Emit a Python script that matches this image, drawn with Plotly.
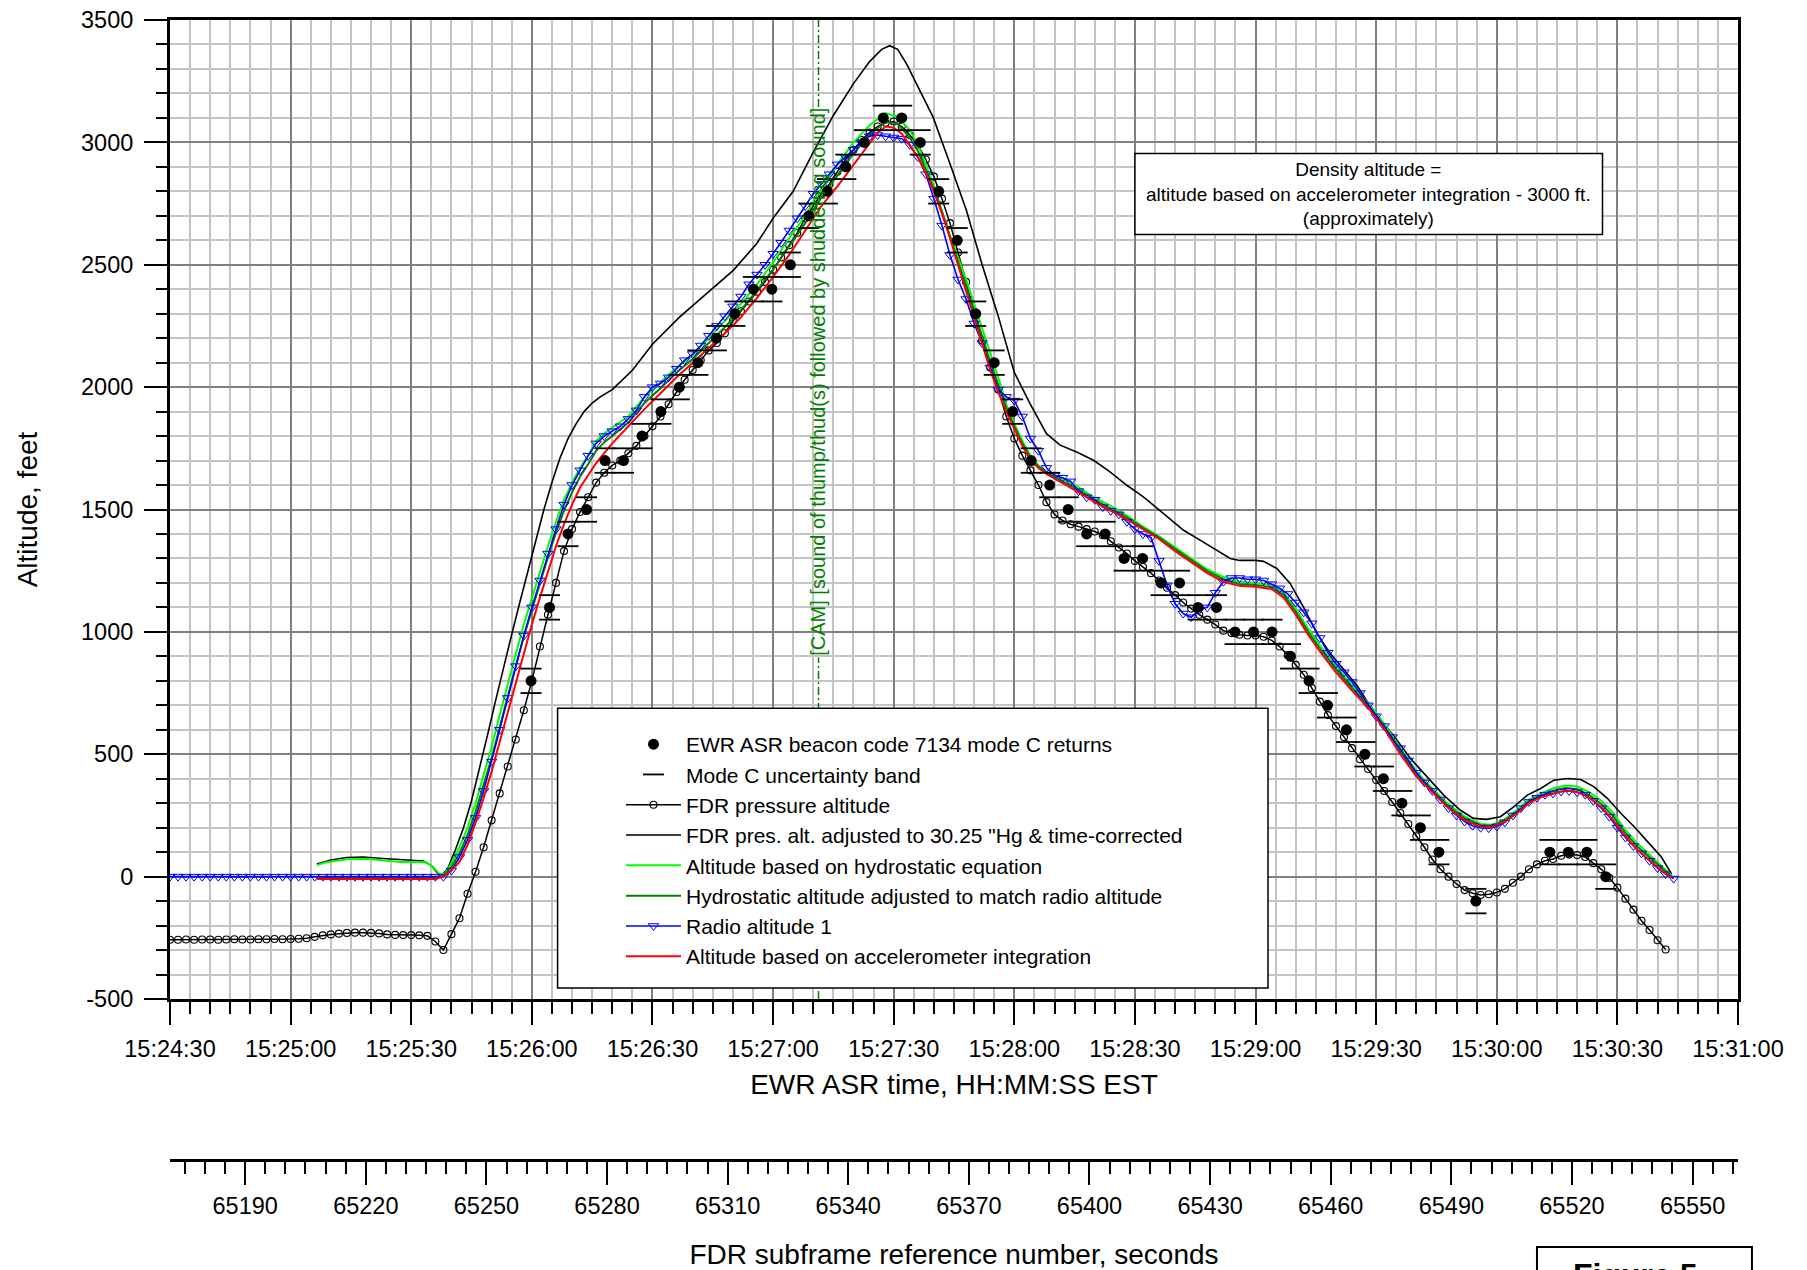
import plotly.graph_objects as go

FONT = "Liberation Sans, Arial, Helvetica, sans-serif"

# ---------------------------------------------------------------------------
# Time base: seconds after 15:24:30 EST (EWR ASR clock)
# ---------------------------------------------------------------------------
time_tick_vals = [0, 30, 60, 90, 120, 150, 180, 210, 240, 270, 300, 330, 360, 390]
time_tick_text = ["15:24:30", "15:25:00", "15:25:30", "15:26:00", "15:26:30", "15:27:00",
                  "15:27:30", "15:28:00", "15:28:30", "15:29:00", "15:29:30", "15:30:00",
                  "15:30:30", "15:31:00"]

# FDR subframe reference number corresponding to 15:24:30 EST
fdr_at_start = 65171.3
fdr_tick_vals = [65190, 65220, 65250, 65280, 65310, 65340, 65370, 65400, 65430,
                 65460, 65490, 65520, 65550]
fdr_tick_text = [str(v) for v in fdr_tick_vals]

alt_tick_vals = [-500, 0, 500, 1000, 1500, 2000, 2500, 3000, 3500]
alt_tick_text = ["-500", "0", "500", "1000", "1500", "2000", "2500", "3000", "3500"]

# ---------------------------------------------------------------------------
# EWR ASR beacon code 7134 mode C returns (100 ft quantised)
# ---------------------------------------------------------------------------
asr_time = [89.8, 94.4, 99.0, 103.6, 108.2, 112.8, 117.4, 122.1, 126.7, 131.3,
            135.9, 140.5, 145.1, 149.7, 154.3, 158.9, 163.5, 168.1, 172.7, 177.4,
            182.0, 186.6, 191.2, 195.8, 200.4, 205.0, 209.6, 214.2, 218.8, 223.4,
            228.0, 232.6, 237.3, 241.9, 246.5, 251.1, 255.7, 260.3, 264.9, 269.5,
            274.1, 278.7, 283.3, 287.9, 292.6, 297.2, 301.8, 306.4, 311.0, 315.6,
            324.8, 343.2, 347.8, 352.4, 357.1]
asr_alt = [800, 1100, 1400, 1500, 1700, 1700, 1800, 1900, 2000, 2100,
           2200, 2300, 2400, 2400, 2500, 2700, 2800, 2900, 3000, 3100,
           3100, 3000, 2800, 2600, 2300, 2100, 1900, 1700, 1600, 1500,
           1400, 1400, 1300, 1300, 1200, 1200, 1100, 1100, 1000, 1000,
           1000, 900, 800, 700, 600, 500, 400, 300, 200, 100,
           -100, 100, 100, 100, 0]
mode_c_half_band = 50  # +/- ft about each reported mode C value

# ---------------------------------------------------------------------------
# FDR pressure altitude, 2 s samples from 15:24:30
# ---------------------------------------------------------------------------
pres_time = list(range(0, 373, 2))
pres_alt = [
    -258, -258, -257, -258, -257, -257, -258, -257, -256, -257,   # 0-18
    -257, -256, -256, -255, -256, -255, -254, -252, -246, -240,   # 20-38
    -236, -233, -230, -229, -229, -230, -232, -236, -238, -239,   # 40-58
    -239, -240, -242, -265, -300, -235, -170, -70, 20, 120,       # 60-78
    230, 340, 450, 560, 680, 800, 940, 1070, 1200, 1330,          # 80-98
    1420, 1490, 1550, 1610, 1650, 1680, 1700, 1730, 1760, 1800,   # 100-118
    1840, 1880, 1930, 1980, 2030, 2070, 2110, 2150, 2180, 2220,   # 120-138
    2270, 2310, 2350, 2390, 2430, 2480, 2530, 2580, 2630, 2690,   # 140-158
    2740, 2790, 2830, 2880, 2930, 2970, 3010, 3040, 3065, 3080,   # 160-178
    3085, 3065, 3030, 2990, 2930, 2860, 2770, 2670, 2550, 2430,   # 180-198
    2300, 2190, 2080, 1990, 1880, 1790, 1720, 1660, 1600, 1530,   # 200-218
    1480, 1455, 1440, 1430, 1420, 1410, 1395, 1370, 1345, 1320,   # 220-238
    1290, 1265, 1240, 1210, 1180, 1150, 1120, 1095, 1070, 1050,   # 240-258
    1030, 1005, 995, 988, 985, 985, 980, 965, 940, 905,           # 260-278
    865, 825, 770, 715, 660, 615, 570, 525, 480, 440,             # 280-298
    395, 350, 305, 260, 215, 165, 120, 70, 30, 0,                 # 300-318
    -30, -55, -68, -75, -72, -65, -50, -25, 0, 30,                # 320-338
    50, 65, 72, 85, 90, 88, 80, 55, 30, -5,                       # 340-358
    -45, -90, -135, -180, -218, -260, -298,                       # 360-372
]

# ---------------------------------------------------------------------------
# Radio altitude 1, 2 s samples from 15:24:30
# ---------------------------------------------------------------------------
radio_time = list(range(0, 375, 2))
radio_alt = [
    0, 0, 0, 0, 0, 0, 0, 0, 0, 0,                                 # 0-18
    0, 0, 0, 0, 0, 0, 0, 0, 0, 0,                                 # 20-38
    0, 0, 0, 0, 0, 0, 0, 0, 0, 0,                                 # 40-58
    0, 0, 0, 0, 0, 25, 80, 150, 240, 350,                         # 60-78
    470, 600, 730, 860, 985, 1100, 1210, 1320, 1420, 1520,        # 80-98
    1600, 1660, 1720, 1770, 1800, 1820, 1840, 1870, 1905, 1960,   # 100-118
    2000, 2015, 2040, 2075, 2110, 2135, 2170, 2210, 2250, 2290,   # 120-138
    2330, 2370, 2420, 2460, 2500, 2545, 2590, 2640, 2690, 2740,   # 140-158
    2790, 2830, 2870, 2910, 2940, 2970, 3000, 3025, 3030, 3025,   # 160-178
    3020, 3015, 2990, 2940, 2870, 2770, 2660, 2540, 2440, 2360,   # 180-198
    2260, 2180, 2080, 1990, 1960, 1945, 1880, 1790, 1740, 1670,   # 200-218
    1640, 1630, 1615, 1575, 1550, 1540, 1510, 1495, 1480, 1450,   # 220-238
    1420, 1400, 1385, 1290, 1190, 1115, 1075, 1060, 1090, 1100,   # 240-258
    1160, 1205, 1220, 1220, 1215, 1215, 1210, 1195, 1178, 1155,   # 260-278
    1120, 1080, 1035, 975, 915, 870, 835, 795, 750, 700,          # 280-298
    655, 615, 570, 525, 475, 425, 385, 350, 315, 280,             # 300-318
    250, 225, 208, 200, 198, 205, 222, 250, 280, 305,             # 320-338
    322, 335, 340, 348, 350, 345, 335, 310, 280, 245,             # 340-358
    200, 160, 125, 95, 65, 35, 10, -8,                            # 360-374
]

# ---------------------------------------------------------------------------
# FDR pressure altitude adjusted to 30.25 "Hg and time-corrected
# ---------------------------------------------------------------------------
adj_time = [36.5, 40, 44, 48, 52, 56, 60, 63, 65, 66.5, 67.5, 69, 71, 73, 75, 77, 79,
            81, 83, 85, 87, 89, 91, 93, 95, 97, 99, 101, 103, 105, 107, 110, 115,
            120, 126.8, 133.4, 140.1, 145.9, 150, 155, 160, 165, 170, 174, 177,
            179, 181, 183.2, 186.5, 189.8, 194, 198.1, 202, 206, 210, 213.9, 218,
            221.4, 225.5, 229.7, 233.8, 238, 242.1, 247.1, 252.1, 256.2, 260.3,
            263.7, 266, 270, 272, 275.3, 278.6, 281.9, 285.3, 288.6, 293.5, 295.2,
            300.2, 304.3, 308.5, 312.6, 316.8, 320.9, 324.2, 327.5, 330.9, 334.2,
            337.6, 340.9, 344.2, 347.6, 350.9, 354.2, 357.5, 360.9, 364.2, 367.5,
            370.9, 373.5]
adj_alt = [52, 68, 78, 80, 75, 70, 68, 64, 45, 15, 5, 30, 110, 200, 310, 440, 580,
           720, 860, 990, 1120, 1250, 1380, 1500, 1610, 1710, 1790, 1850, 1900,
           1935, 1960, 1990, 2069, 2175, 2287, 2382, 2477, 2586, 2690, 2800, 2960,
           3110, 3240, 3330, 3380, 3395, 3380, 3321, 3212, 3103, 2913, 2722, 2500,
           2290, 2060, 1933, 1810, 1763, 1735, 1701, 1654, 1599, 1552, 1483, 1415,
           1375, 1334, 1300, 1292, 1292, 1288, 1259, 1198, 1102, 993, 912, 816,
           782, 653, 578, 483, 408, 333, 272, 238, 234, 245, 285, 333, 360, 394,
           401, 397, 367, 320, 258, 204, 143, 81, 10]

# ---------------------------------------------------------------------------
# Altitude based on hydrostatic equation
# ---------------------------------------------------------------------------
hydro_time = [36.5, 38.6, 41.4, 44.7, 48.8, 53, 57.1, 61.3, 63.8, 65.4, 67.3, 68.5,
              70, 72, 74, 76, 78, 80, 82, 84, 86, 88, 90, 92, 94, 96, 98, 100, 102,
              104, 106, 108, 110, 114, 118, 122, 126, 130, 134, 138, 142, 146, 150,
              154, 158, 162, 166, 170, 174, 178, 181, 184, 186, 188, 190, 192, 194,
              196, 198, 200, 202, 204, 206, 208, 210, 212, 214, 216, 218, 220, 222,
              226, 230, 234, 238, 242, 246, 250, 254, 258, 262, 266, 270, 274, 277,
              280, 283, 286, 290, 294, 298, 302, 306, 310, 314, 318, 322, 326, 329,
              332, 335, 338, 341, 344, 347, 350, 353, 356, 359, 362, 365, 368, 371,
              373.5]
hydro_alt = [47, 58, 65, 72, 73, 66, 60, 61, 58, 40, 6, 15,
             55, 120, 200, 300, 410, 530, 660, 790, 910, 1030, 1140, 1250, 1350,
             1450, 1540, 1610, 1670, 1720, 1780, 1810, 1835, 1880, 1960, 2020, 2080,
             2130, 2200, 2270, 2340, 2420, 2510, 2610, 2700, 2810, 2910, 3000, 3070,
             3120, 3105, 3050, 2990, 2910, 2820, 2720, 2620, 2530, 2440, 2340, 2240,
             2140, 2040, 1930, 1850, 1780, 1720, 1680, 1655, 1640, 1625, 1590, 1548,
             1515, 1475, 1430, 1390, 1345, 1300, 1255, 1225, 1205, 1200, 1192, 1160,
             1095, 1015, 945, 860, 780, 710, 625, 525, 430, 360, 295, 245, 215, 212,
             235, 272, 315, 340, 360, 372, 368, 345, 310, 260, 190, 135, 90, 45, 5]

# ---------------------------------------------------------------------------
# Hydrostatic altitude adjusted to match radio altitude
# ---------------------------------------------------------------------------
hadj_time = [36.5, 66, 68, 70, 72, 74, 76, 78, 80, 82, 84, 86, 88, 90, 92, 94, 96,
             98, 100, 102, 104, 106, 108, 110, 114, 118, 122, 126, 130, 134, 138,
             142, 146, 150, 154, 158, 162, 166, 170, 174, 178, 181, 184, 186, 188,
             190, 192, 194, 196, 198, 200, 202, 204, 206, 208, 210, 212, 214, 216,
             218, 220, 222, 226, 230, 234, 238, 242, 246, 250, 254, 258, 262, 266,
             270, 274, 277, 280, 283, 286, 290, 294, 298, 302, 306, 310, 314, 318,
             322, 326, 329, 332, 335, 338, 341, 344, 347, 350, 353, 356, 359, 362,
             365, 368, 371, 373.5]
hadj_alt = [-2, -2, 2, 40, 95, 170, 265, 370, 485, 610, 740, 860, 980, 1090, 1200,
            1305, 1405, 1495, 1570, 1635, 1685, 1740, 1775, 1800, 1855, 1935, 1995,
            2060, 2115, 2180, 2245, 2315, 2395, 2480, 2575, 2670, 2775, 2865, 2955,
            3030, 3085, 3075, 3020, 2965, 2890, 2810, 2715, 2615, 2515, 2415, 2310,
            2208, 2105, 2010, 1915, 1840, 1770, 1712, 1675, 1650, 1632, 1616, 1580,
            1539, 1505, 1468, 1425, 1385, 1338, 1292, 1248, 1215, 1196, 1192, 1183,
            1150, 1082, 1002, 932, 848, 770, 700, 615, 512, 420, 352, 287, 238, 210,
            208, 230, 265, 308, 332, 350, 362, 357, 333, 297, 245, 178, 122, 79, 35, 0]

# ---------------------------------------------------------------------------
# Altitude based on accelerometer integration
# ---------------------------------------------------------------------------
accel_time = [36.5, 66, 68, 70, 72, 74, 76, 78, 80, 82, 84, 86, 88, 90, 92, 94, 96,
              98, 100, 102, 104, 106, 108, 110, 114, 118, 122, 126, 130, 134, 138,
              142, 146, 150, 154, 158, 162, 166, 170, 174, 176, 178, 180, 182, 184,
              186, 188, 190, 192, 194, 196, 198, 200, 202, 204, 206, 208, 210, 212,
              214, 216, 218, 220, 222, 226, 230, 234, 238, 242, 246, 250, 254, 258,
              262, 266, 270, 274, 277, 280, 283, 286, 290, 294, 298, 302, 306, 310,
              314, 318, 322, 326, 329, 332, 335, 338, 341, 344, 347, 350, 353, 356,
              359, 362, 365, 368, 371, 373.5]
accel_alt = [-10, -10, 0, 25, 60, 130, 220, 320, 430, 550, 680, 800, 920, 1030, 1140,
             1250, 1350, 1440, 1520, 1590, 1640, 1690, 1730, 1770, 1840, 1910, 1975,
             2040, 2100, 2160, 2220, 2285, 2365, 2450, 2540, 2640, 2740, 2820, 2910,
             2995, 3040, 3065, 3060, 3035, 2990, 2940, 2875, 2800, 2710, 2610, 2500,
             2390, 2280, 2175, 2070, 1980, 1900, 1830, 1760, 1705, 1670, 1645, 1625,
             1608, 1570, 1530, 1495, 1460, 1420, 1380, 1330, 1285, 1240, 1205, 1188,
             1184, 1175, 1140, 1070, 990, 920, 835, 760, 690, 605, 500, 410, 345, 280,
             230, 205, 204, 225, 258, 300, 325, 340, 352, 346, 322, 285, 230, 165, 108,
             67, 25, -5]

# CAM event time and the gap left in its marker line for the rotated label
cam_time = 161.3
cam_label = "[CAM] [sound of thump/thud(s) followed by shuddering sound]"
cam_gap = (895, 3145)

fig = go.Figure()

# drawing order: pressure altitude underneath, returns on top
fig.add_trace(go.Scatter(
    x=pres_time, y=pres_alt, mode="lines+markers", name="FDR pressure altitude",
    line=dict(color="black", width=1.5),
    marker=dict(symbol="circle-open", size=7, color="black", line=dict(width=1.1)),
    legendrank=3))
fig.add_trace(go.Scatter(
    x=adj_time, y=adj_alt, mode="lines",
    name="FDR pres. alt. adjusted to 30.25 \"Hg & time-corrected",
    line=dict(color="black", width=1.6), legendrank=4))
fig.add_trace(go.Scatter(
    x=hydro_time, y=hydro_alt, mode="lines", name="Altitude based on hydrostatic equation",
    line=dict(color="#00ff00", width=2), legendrank=5))
fig.add_trace(go.Scatter(
    x=hadj_time, y=hadj_alt, mode="lines",
    name="Hydrostatic altitude adjusted to match radio altitude",
    line=dict(color="#008000", width=2), legendrank=6))
fig.add_trace(go.Scatter(
    x=radio_time, y=radio_alt, mode="lines+markers", name="Radio altitude 1",
    line=dict(color="#0000ff", width=1.6),
    marker=dict(symbol="triangle-down-open", size=9, color="#0000ff", line=dict(width=1)),
    legendrank=7))
fig.add_trace(go.Scatter(
    x=accel_time, y=accel_alt, mode="lines",
    name="Altitude based on accelerometer integration",
    line=dict(color="#ff0000", width=2), legendrank=8))

band_time = asr_time + asr_time
band_alt = [a + mode_c_half_band for a in asr_alt] + [a - mode_c_half_band for a in asr_alt]
fig.add_trace(go.Scatter(
    x=band_time, y=band_alt, mode="markers", name="Mode C uncertainty band",
    marker=dict(symbol="line-ew", size=15, color="black", line=dict(width=1.8, color="black")),
    legendrank=2))
fig.add_trace(go.Scatter(
    x=asr_time, y=asr_alt, mode="markers", name="EWR ASR beacon code 7134 mode C returns",
    marker=dict(symbol="circle", size=11, color="black"), legendrank=1))

# CAM event marker line, broken where the label sits
fig.add_trace(go.Scatter(
    x=[cam_time, cam_time, None, cam_time, cam_time],
    y=[-500, cam_gap[0], None, cam_gap[1], 3500],
    mode="lines", showlegend=False, hoverinfo="skip",
    line=dict(color="#008000", width=1.5, dash="8px,3px,2px,3px")))

# carrier for the FDR subframe axis
fig.add_trace(go.Scatter(
    x=[fdr_at_start, fdr_at_start + 390], y=[None, None], xaxis="x2", yaxis="y",
    mode="markers", showlegend=False, hoverinfo="skip"))

fig.add_annotation(
    x=cam_time, y=(cam_gap[0] + cam_gap[1]) / 2, xref="x", yref="y",
    text=cam_label, textangle=-90, showarrow=False,
    font=dict(family=FONT, size=20, color="#008000"))

# density altitude note
fig.add_shape(type="rect", xref="x", yref="y", x0=240.0, x1=356.3, y0=2624, y1=2955,
              fillcolor="white", line=dict(color="black", width=1.5), layer="above")
fig.add_annotation(
    x=298.2, y=2790, xref="x", yref="y", showarrow=False, align="center",
    text="Density altitude =<br>altitude based on accelerometer integration - 3000 ft."
         "<br>(approximately)",
    font=dict(family=FONT, size=19, color="black"))

# legend frame
fig.add_shape(type="rect", xref="x", yref="y", x0=96.4, x1=273.1, y0=-455, y1=688,
              fillcolor="white", line=dict(color="black", width=1.5), layer="above")

# figure number box at the page foot
fig.add_shape(type="rect", xref="paper", yref="paper", x0=0.8718, x1=1.0089,
              y0=-0.2, y1=-0.0763, line=dict(color="black", width=2))
fig.add_annotation(
    x=0.934, y=-0.083, xref="paper", yref="paper", xanchor="center", yanchor="top",
    showarrow=False, text="<b>Figure 5</b>",
    font=dict(family=FONT, size=32, color="black"))

axis_common = dict(
    showline=True, linewidth=3, linecolor="black",
    ticks="outside", tickwidth=2, tickcolor="black",
    tickfont=dict(family=FONT, size=23.5, color="black"),
    zeroline=False, automargin=False,
)

fig.update_layout(
    width=1807, height=1270,
    margin=dict(l=170, r=69, t=20, b=110, autoexpand=False),
    paper_bgcolor="white", plot_bgcolor="white",
    font=dict(family=FONT, color="black"),
    showlegend=True,
    legend=dict(
        x=(621 - 170) / 1568, y=1 - (724 - 20) / 1140, xanchor="left", yanchor="top",
        xref="paper", yref="paper",
        bgcolor="rgba(0,0,0,0)", borderwidth=0, itemwidth=55,
        font=dict(family=FONT, size=21, color="black"),
        traceorder="normal", tracegroupgap=0),
    xaxis=dict(
        range=[0, 390], tickmode="array", tickvals=time_tick_vals, ticktext=time_tick_text,
        ticklen=23, mirror=True, showgrid=True, gridcolor="#808080", gridwidth=1.5,
        minor=dict(tickmode="linear", tick0=0, dtick=5, ticks="outside", ticklen=12,
                   tickwidth=2, tickcolor="black", showgrid=True,
                   gridcolor="#c4c4c4", gridwidth=1.5),
        ticklabelstandoff=4,
        title=dict(text="EWR ASR time, HH:MM:SS EST",
                   font=dict(family=FONT, size=28, color="black"), standoff=14),
        **axis_common),
    xaxis2=dict(
        range=[fdr_at_start, fdr_at_start + 390], overlaying="x", anchor="free",
        position=0, side="bottom", tickmode="array", tickvals=fdr_tick_vals,
        ticktext=fdr_tick_text, ticklen=23, showgrid=False,
        minor=dict(tickmode="linear", tick0=65170, dtick=5, ticks="outside", ticklen=12,
                   tickwidth=2, tickcolor="black", showgrid=False),
        ticklabelstandoff=1,
        title=dict(text="FDR subframe reference number, seconds",
                   font=dict(family=FONT, size=28, color="black"), standoff=26),
        **axis_common),
    yaxis=dict(
        range=[-500, 3500], domain=[(1160 - 999) / 1140, 1], tickmode="array",
        tickvals=alt_tick_vals, ticktext=alt_tick_text, ticklen=23, mirror=True,
        showgrid=True, gridcolor="#808080", gridwidth=1.5,
        minor=dict(tickmode="linear", tick0=0, dtick=100, ticks="outside", ticklen=11.5,
                   tickwidth=2, tickcolor="black", showgrid=True,
                   gridcolor="#c4c4c4", gridwidth=1.5),
        ticklabelstandoff=6,
        title=dict(text="Altitude, feet",
                   font=dict(family=FONT, size=28, color="black"), standoff=36),
        **axis_common),
)

fig.write_html("out.html")
